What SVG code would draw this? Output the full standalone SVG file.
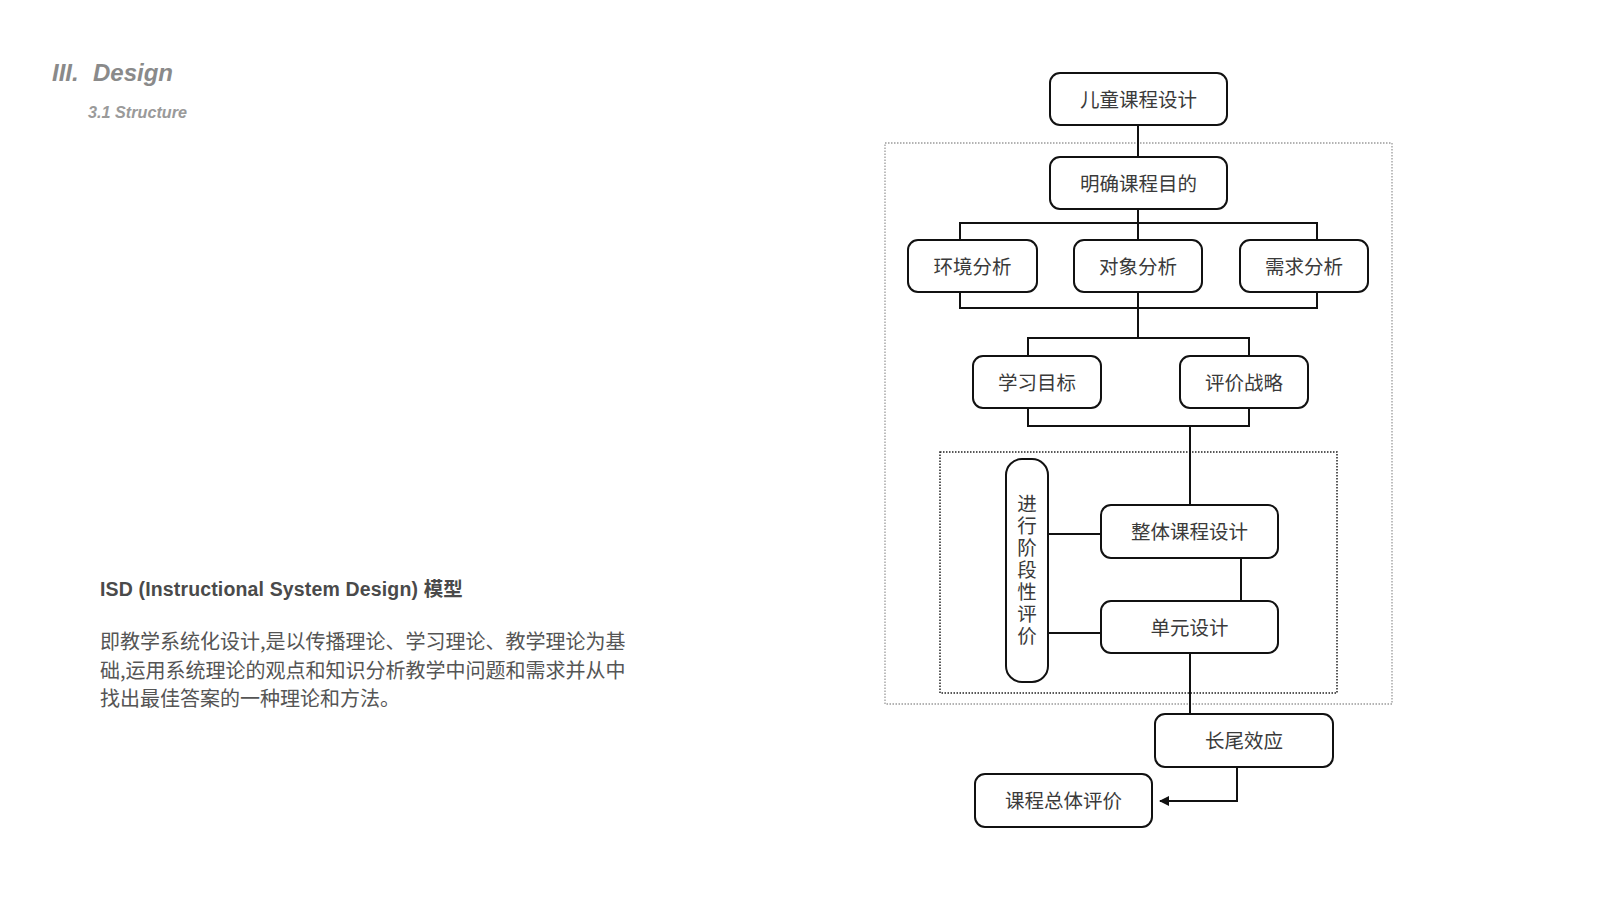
<svg xmlns="http://www.w3.org/2000/svg" width="1600" height="900" viewBox="0 0 1600 900">
<style>
.box{fill:#fff;stroke:#111;stroke-width:2}
.lbl{font-family:"Noto Sans CJK SC","Noto Sans",sans-serif;font-size:19.5px;fill:#3a3a3a;text-anchor:middle;dominant-baseline:central}
.con{fill:none;stroke:#111;stroke-width:2}
</style>
<defs>
<marker id="arr" viewBox="0 0 10 10" refX="9" refY="5" markerWidth="5" markerHeight="5" orient="auto" markerUnits="strokeWidth">
<path d="M0,0 L10,5 L0,10 z" fill="#111"/>
</marker>
</defs>
<rect width="1600" height="900" fill="#fff"/>
<g id="header">
<text x="52" y="81" font-family="Liberation Sans, Arial, sans-serif" font-size="24" font-weight="bold" font-style="italic" fill="#8a8a8a">III.</text>
<text x="93" y="81" font-family="Liberation Sans, Arial, sans-serif" font-size="24" font-weight="bold" font-style="italic" fill="#8a8a8a">Design</text>
<text x="88" y="118" font-family="Liberation Sans, Arial, sans-serif" font-size="16.2" font-weight="bold" font-style="italic" fill="#9a9a9a">3.1 Structure</text>
</g>
<g id="description">
<text x="100" y="596" font-family="Liberation Sans, 'Noto Sans CJK SC', sans-serif" font-size="19.5" font-weight="bold" fill="#4a4a4a" letter-spacing="0.15">ISD (Instructional System Design) 模型</text>
<text font-family="'Noto Sans CJK SC', sans-serif" font-size="20" fill="#555">
<tspan x="100" y="649">即教学系统化设计,是以传播理论、学习理论、教学理论为基</tspan>
<tspan x="100" y="677.5">础,运用系统理论的观点和知识分析教学中问题和需求并从中</tspan>
<tspan x="100" y="706">找出最佳答案的一种理论和方法。</tspan>
</text>
</g>
<g id="frames">
<rect x="885" y="143" width="507" height="561" fill="none" stroke="#9a9a9a" stroke-width="1.3" stroke-dasharray="1.5 1.5"/>
<rect x="940" y="452" width="397" height="241" fill="none" stroke="#222" stroke-width="1.5" stroke-dasharray="1.5 1.5"/>
</g>
<g id="connectors">
<path class="con" d="M1138,125 V157"/>
<path class="con" d="M1138,209 V240 M960,240 V223 H1317 V240"/>
<path class="con" d="M960,292 V308 H1317 V292 M1138,292 V338"/>
<path class="con" d="M1028,356 V338 H1249 V356"/>
<path class="con" d="M1028,408 V426 H1249 V408 M1190,426 V505"/>
<path class="con" d="M1048,534 H1101 M1048,633 H1101"/>
<path class="con" d="M1241,558 V601"/>
<path class="con" d="M1190,653 V714"/>
<path class="con" d="M1237,767 V801 H1160" marker-end="url(#arr)"/>
</g>
<g id="n1"><rect class="box" x="1050" y="73" width="177" height="52" rx="10"/><text class="lbl" x="1138.5" y="98">儿童课程设计</text></g>
<g id="n2"><rect class="box" x="1050" y="157" width="177" height="52" rx="10"/><text class="lbl" x="1138.5" y="182">明确课程目的</text></g>
<g id="n3"><rect class="box" x="908" y="240" width="129" height="52" rx="10"/><text class="lbl" x="972.5" y="265">环境分析</text></g>
<g id="n4"><rect class="box" x="1074" y="240" width="128" height="52" rx="10"/><text class="lbl" x="1138" y="265">对象分析</text></g>
<g id="n5"><rect class="box" x="1240" y="240" width="128" height="52" rx="10"/><text class="lbl" x="1304" y="265">需求分析</text></g>
<g id="n6"><rect class="box" x="973" y="356" width="128" height="52" rx="10"/><text class="lbl" x="1037" y="381">学习目标</text></g>
<g id="n7"><rect class="box" x="1180" y="356" width="128" height="52" rx="10"/><text class="lbl" x="1244" y="381">评价战略</text></g>
<g id="n8"><rect class="box" x="1006" y="459" width="42" height="223" rx="16"/>
<text class="lbl" x="1027" y="571" writing-mode="vertical-rl" letter-spacing="2.5">进行阶段性评价</text></g>
<g id="n9"><rect class="box" x="1101" y="505" width="177" height="53" rx="10"/><text class="lbl" x="1189.5" y="530.5">整体课程设计</text></g>
<g id="n10"><rect class="box" x="1101" y="601" width="177" height="52" rx="10"/><text class="lbl" x="1189.5" y="626">单元设计</text></g>
<g id="n11"><rect class="box" x="1155" y="714" width="178" height="53" rx="10"/><text class="lbl" x="1244" y="739.5">长尾效应</text></g>
<g id="n12"><rect class="box" x="975" y="774" width="177" height="53" rx="10"/><text class="lbl" x="1063.5" y="799.5">课程总体评价</text></g>
</svg>
